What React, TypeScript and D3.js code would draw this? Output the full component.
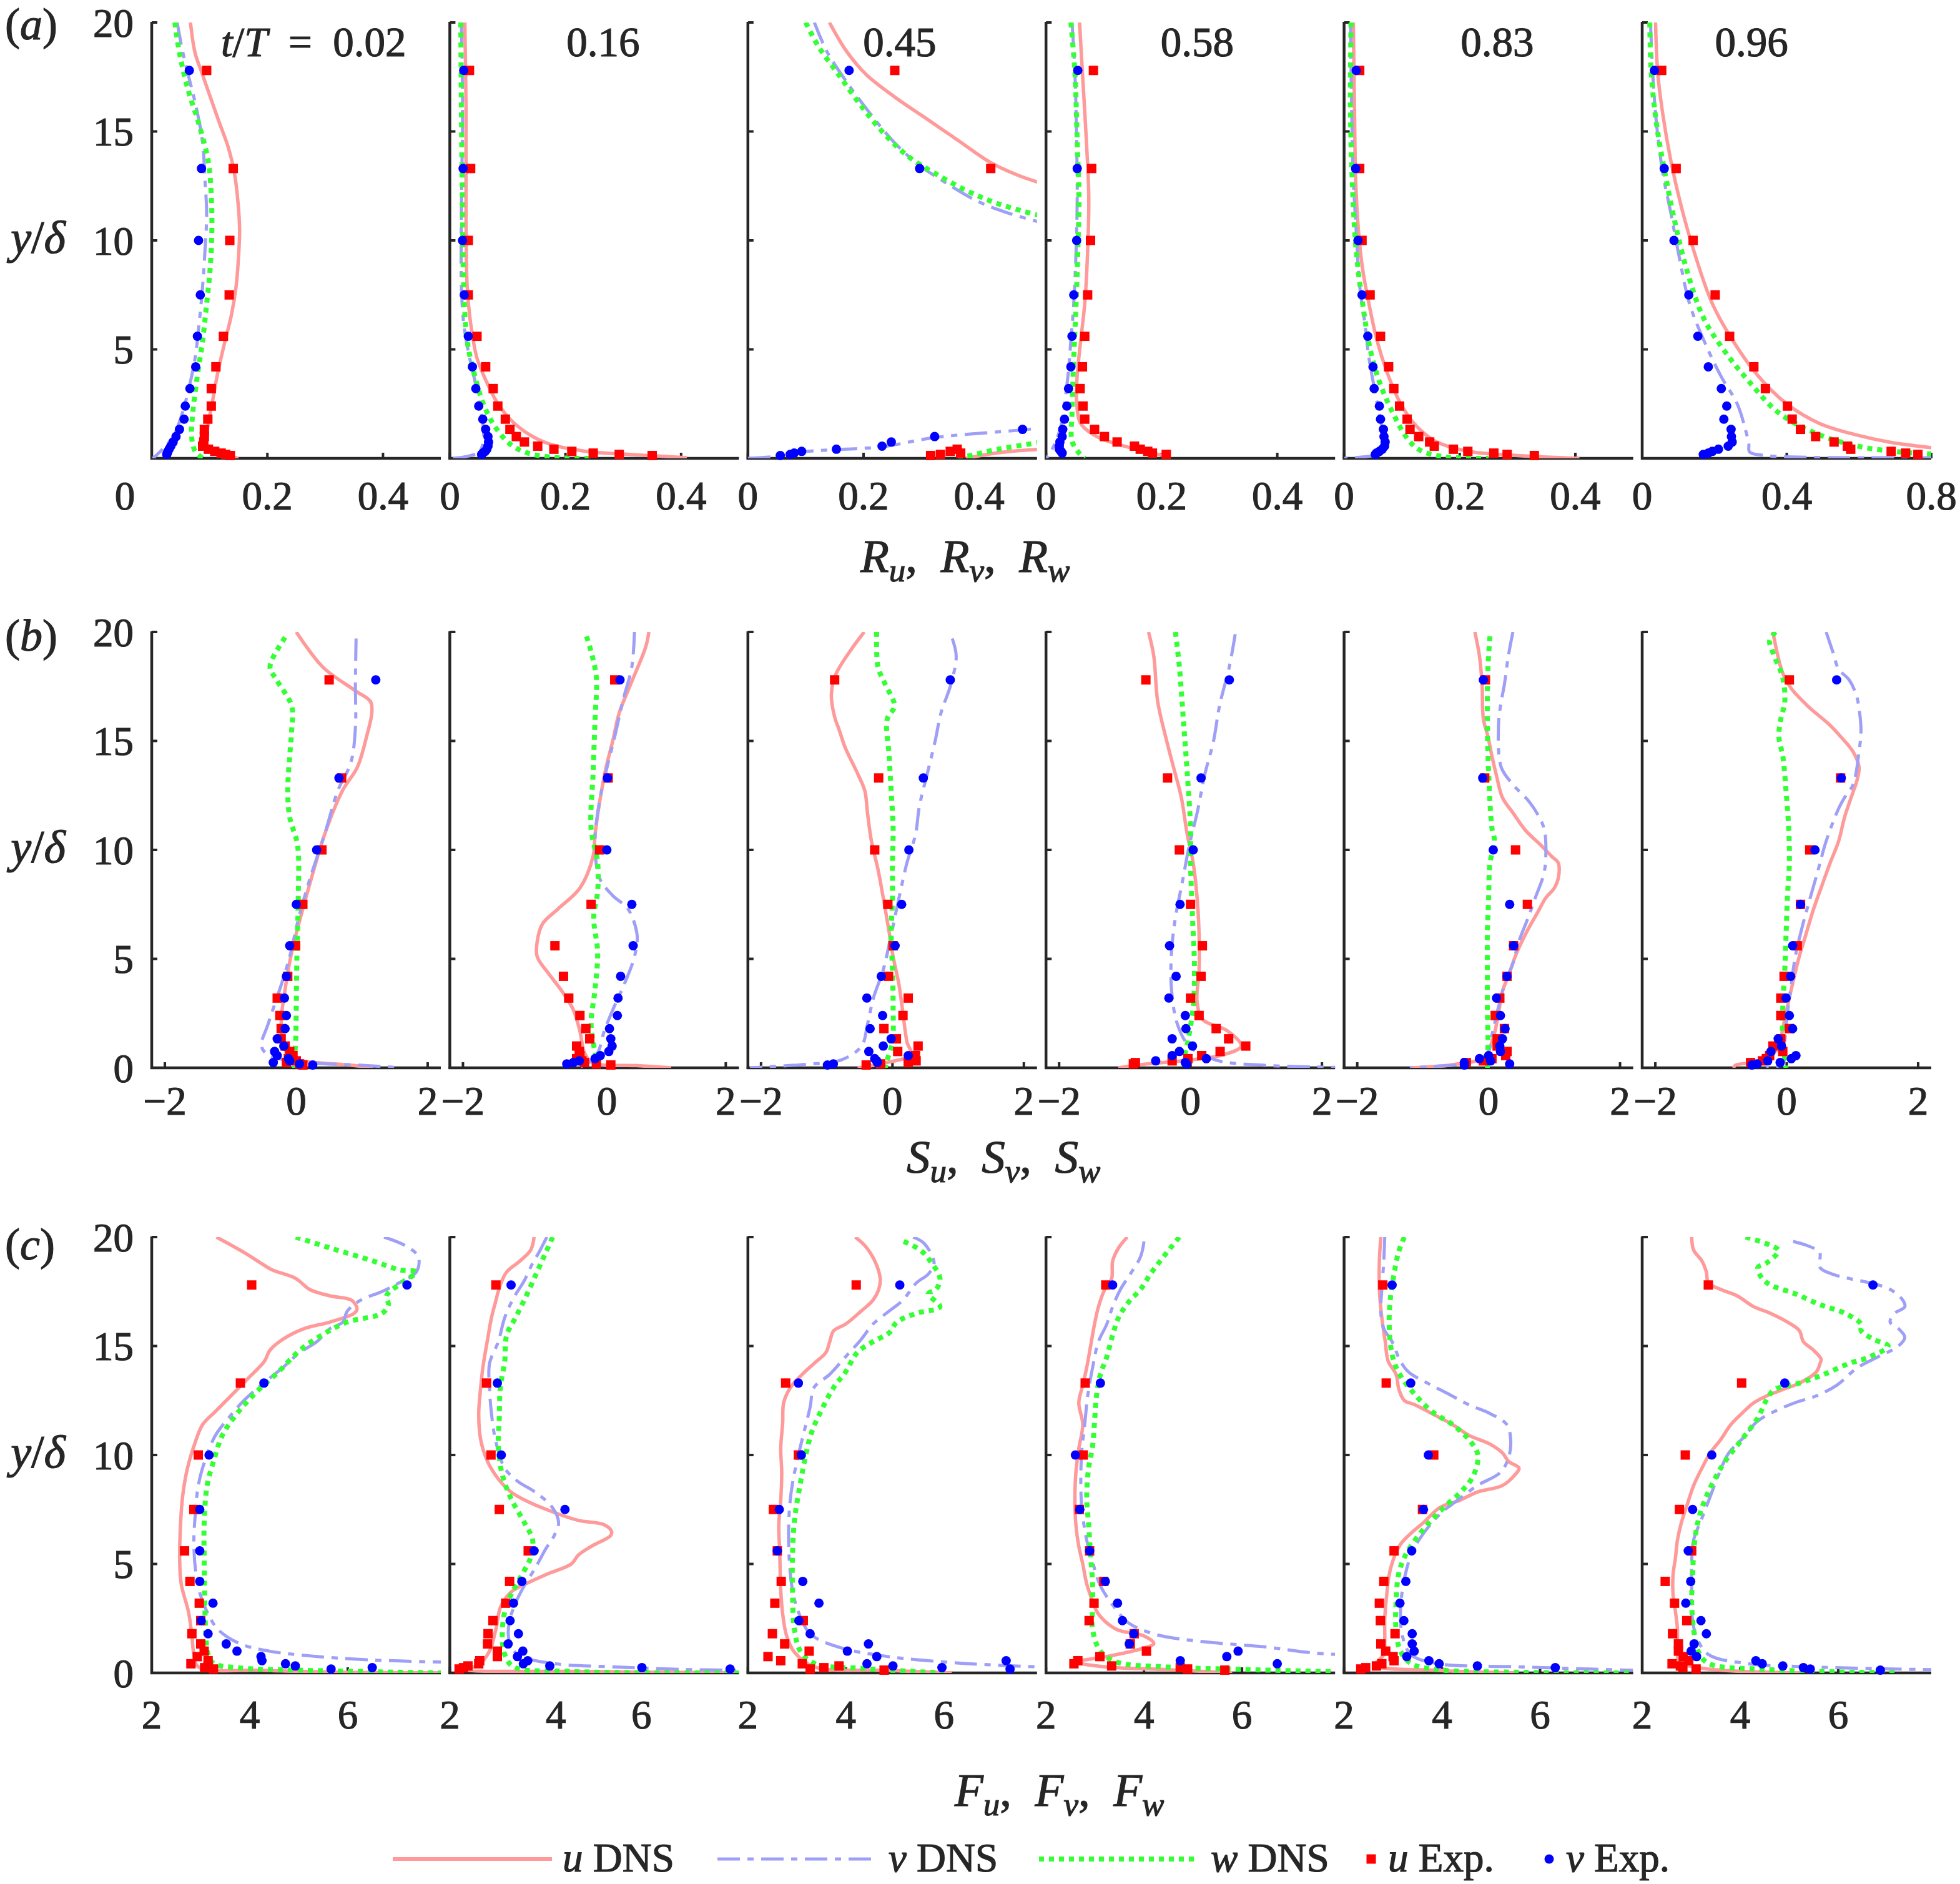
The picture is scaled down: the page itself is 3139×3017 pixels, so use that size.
import * as d3 from 'd3'

type Pt = [number, number] | null

// heights y/δ of the experimental stations (shared by every panel)
const yLevels = [17.8, 13.3, 10, 7.5, 5.6, 4.2, 3.2, 2.4, 1.8, 1.33, 1.0, 0.75, 0.56, 0.42, 0.32, 0.24, 0.18, 0.13]
const phases = ['0.02', '0.16', '0.45', '0.58', '0.83', '0.96']
const yTicks = [0, 5, 10, 15, 20]
const rTicks = [[0, 0.2, 0.4], [0, 0.2, 0.4], [0, 0.2, 0.4], [0, 0.2, 0.4], [0, 0.2, 0.4], [0, 0.4, 0.8]]
const sTicks = [-2, 0, 2]
const fTicks = [2, 4, 6]
const legendLabels = [['u', ' DNS'], ['v', ' DNS'], ['w', ' DNS'], ['u', ' Exp.'], ['v', ' Exp.']]

// ---------- (a) R_u, R_v, R_w ----------
const ruDns: Pt[][] = [
  [[0.067, 20], [0.075, 18.6], [0.088, 17.6], [0.101, 16.6], [0.117, 15.4], [0.132, 14.3], [0.143, 13.1], [0.149, 11.8], [0.152, 10.5], [0.15, 9.2], [0.146, 7.9], [0.138, 6.6], [0.126, 5.3], [0.114, 3.9], [0.105, 2.6], [0.098, 1.6], [0.094, 0.8], [0.096, 0.45], [0.115, 0.22], [0.14, 0.06], [0.15, 0]],
  [[0.026, 20], [0.028, 16.1], [0.028, 11.2], [0.03, 7.9], [0.036, 6.2], [0.047, 4.6], [0.062, 3.6], [0.081, 2.6], [0.104, 1.8], [0.134, 1.15], [0.172, 0.66], [0.233, 0.33], [0.323, 0.16], [0.41, 0.03]],
  [[0.141, 20], [0.17, 18.7], [0.205, 17.6], [0.253, 16.6], [0.308, 15.6], [0.363, 14.6], [0.418, 13.6], [0.466, 13.0], [0.51, 12.6], null, [0.377, 0], [0.418, 0.2], [0.459, 0.33], [0.51, 0.42]],
  [[0.058, 20], [0.063, 17.7], [0.07, 14.5], [0.074, 12], [0.072, 9.5], [0.067, 7.1], [0.06, 5.4], [0.054, 3.8], [0.053, 2.6], [0.06, 1.6], [0.088, 1.0], [0.122, 0.66], [0.157, 0.41], [0.191, 0.2], [0.208, 0.08], [0.215, 0]],
  [[0.016, 20], [0.018, 16.1], [0.02, 12.8], [0.025, 10.4], [0.032, 8.7], [0.043, 7.1], [0.057, 5.4], [0.075, 3.9], [0.096, 2.6], [0.121, 1.6], [0.157, 0.8], [0.214, 0.33], [0.3, 0.13], [0.407, 0]],
  [[0.037, 20], [0.043, 17.7], [0.057, 15.8], [0.08, 13.6], [0.109, 11.5], [0.149, 9.2], [0.194, 7.1], [0.251, 5.4], [0.32, 3.8], [0.4, 2.5], [0.491, 1.6], [0.594, 1.07], [0.686, 0.74], [0.8, 0.49]],
]
const rvDns: Pt[][] = [
  [[0.044, 20], [0.054, 18.6], [0.065, 17.4], [0.077, 16.1], [0.088, 14.5], [0.092, 12.8], [0.095, 11.2], [0.092, 9.5], [0.088, 7.9], [0.082, 6.2], [0.075, 4.6], [0.065, 3.3], [0.052, 2.0], [0.037, 1.0], [0.018, 0.4], [0.002, 0]],
  [[0.02, 20], [0.022, 16.1], [0.02, 11.2], [0.02, 7.9], [0.024, 6.2], [0.032, 4.9], [0.043, 3.6], [0.051, 2.5], [0.057, 1.6], [0.058, 0.8], [0.051, 0.3], [0.028, 0.08], [0.005, 0]],
  [[0.115, 20], [0.136, 18.7], [0.17, 17.3], [0.212, 15.8], [0.253, 14.5], [0.294, 13.5], [0.342, 12.65], [0.397, 11.8], [0.445, 11.3], [0.51, 10.8], null, [0, 0], [0.056, 0.11], [0.095, 0.3], [0.153, 0.4], [0.232, 0.53], [0.322, 0.95], [0.473, 1.3], [0.51, 1.4]],
  [[0.045, 20], [0.05, 17.7], [0.053, 14.5], [0.054, 12], [0.052, 9.5], [0.048, 7.1], [0.043, 5.4], [0.038, 3.8], [0.032, 2.5], [0.026, 1.5], [0.015, 0.66], [0.005, 0.16], [0, 0]],
  [[0.011, 20], [0.013, 16.1], [0.016, 12.8], [0.021, 10.4], [0.027, 7.9], [0.036, 6.2], [0.043, 4.6], [0.054, 3.0], [0.064, 1.6], [0.07, 0.8], [0.064, 0.3], [0.05, 0.13], [0, 0]],
  [[0.023, 20], [0.029, 17.7], [0.04, 15.3], [0.057, 13.1], [0.08, 11.2], [0.103, 9.2], [0.131, 7.1], [0.171, 5.4], [0.217, 3.8], [0.263, 2.5], [0.286, 1.3], [0.295, 0.66], [0.297, 0.3], [0.343, 0.13], [0.457, 0.05], [0.8, 0.03]],
]
const rwDns: Pt[][] = [
  [[0.04, 20], [0.048, 18.6], [0.063, 16.9], [0.082, 15.3], [0.098, 13.6], [0.103, 12], [0.104, 10.4], [0.101, 8.7], [0.095, 7.1], [0.088, 5.4], [0.079, 3.8], [0.071, 2.1], [0.069, 1.0], [0.075, 0.33], [0.088, 0]],
  [[0.019, 20], [0.02, 16.1], [0.022, 11.2], [0.024, 7.9], [0.03, 5.4], [0.043, 3.8], [0.058, 2.5], [0.077, 1.5], [0.104, 0.66], [0.134, 0.25], [0.187, 0.03], [0.248, 0]],
  [[0.1, 20], [0.122, 18.9], [0.157, 17.6], [0.198, 16.1], [0.239, 14.8], [0.28, 13.8], [0.322, 13.1], [0.377, 12.3], [0.431, 11.7], [0.51, 11.1], null, [0.363, 0], [0.39, 0.16], [0.431, 0.41], [0.51, 0.75]],
  [[0.043, 20], [0.05, 17.7], [0.054, 14.5], [0.057, 12], [0.055, 9.5], [0.052, 7.1], [0.048, 4.6], [0.045, 2.1], [0.045, 0.8], [0.057, 0.25], [0.067, 0]],
  [[0.012, 20], [0.011, 16.1], [0.014, 12.8], [0.021, 9.5], [0.032, 7.1], [0.046, 4.9], [0.064, 3.3], [0.086, 2.0], [0.107, 1.0], [0.129, 0.41], [0.171, 0.08], [0.25, 0]],
  [[0.021, 20], [0.025, 17.7], [0.04, 15.3], [0.063, 13.1], [0.091, 10.8], [0.126, 8.5], [0.171, 6.4], [0.229, 4.9], [0.297, 3.5], [0.377, 2.1], [0.48, 1.15], [0.594, 0.57], [0.709, 0.3], [0.8, 0.2]],
]
const ruExp: (number | null)[][] = [
  [0.095, 0.141, 0.135, 0.134, 0.124, 0.111, 0.103, 0.103, 0.097, 0.091, 0.091, 0.09, 0.088, 0.098, 0.109, 0.12, 0.128, 0.136],
  [0.034, 0.036, 0.032, 0.032, 0.047, 0.062, 0.075, 0.083, 0.096, 0.104, 0.115, 0.129, 0.152, 0.18, 0.211, 0.248, 0.293, 0.35],
  [0.254, 0.42, null, null, null, null, null, null, null, null, null, null, null, 0.362, 0.35, 0.368, 0.333, 0.316],
  [0.082, 0.079, 0.077, 0.072, 0.067, 0.063, 0.059, 0.064, 0.067, 0.084, 0.101, 0.123, 0.153, 0.163, 0.176, 0.184, 0.208, null],
  [0.027, 0.027, 0.031, 0.045, 0.063, 0.077, 0.086, 0.096, 0.109, 0.114, 0.129, 0.148, 0.156, 0.189, 0.214, 0.259, 0.282, 0.329],
  [0.054, 0.094, 0.141, 0.202, 0.242, 0.309, 0.341, 0.402, 0.415, 0.438, 0.48, 0.531, 0.568, 0.577, 0.689, 0.729, 0.763, null],
]
const rvExp: (number | null)[][] = [
  [0.065, 0.086, 0.081, 0.084, 0.079, 0.076, 0.066, 0.058, 0.056, 0.048, 0.042, 0.037, 0.033, 0.03, 0.028, 0.027, 0.026, null],
  [0.024, 0.023, 0.022, 0.025, 0.032, 0.039, 0.045, 0.05, 0.057, 0.062, 0.066, 0.067, 0.066, 0.064, 0.061, 0.057, 0.055, null],
  [0.175, 0.297, null, null, null, null, null, null, null, 0.475, 0.323, 0.248, 0.232, 0.153, 0.093, 0.08, 0.073, 0.056],
  [0.055, 0.054, 0.053, 0.048, 0.045, 0.043, 0.039, 0.036, 0.032, 0.029, 0.028, 0.024, 0.023, 0.023, 0.026, 0.028, null, null],
  [0.021, 0.02, 0.024, 0.031, 0.041, 0.05, 0.052, 0.061, 0.063, 0.068, 0.069, 0.071, 0.07, 0.066, 0.061, 0.056, 0.054, null],
  [0.034, 0.061, 0.088, 0.129, 0.154, 0.183, 0.219, 0.234, 0.226, 0.246, 0.247, 0.249, 0.238, 0.211, 0.194, 0.183, 0.169, null],
]

// ---------- (b) S_u, S_v, S_w ----------
const suDns: Pt[][] = [
  [[0, 20], [0.4, 18.4], [0.9, 17.3], [1.13, 16.8], [1.15, 16.3], [1.07, 15.2], [0.93, 13.8], [0.7, 12.7], [0.43, 10.7], [0.23, 8.7], [0.1, 7.3], [-0.07, 5.3], [-0.17, 3.6], [-0.23, 2.0], [-0.17, 0.85], [-0.1, 0.45], [0.17, 0.28], [0.83, 0.12], [1.17, 0]],
  [[0.83, 20], [0.78, 19.3], [0.58, 17.8], [0.38, 16.3], [0.28, 15], [0.18, 13.8], [0.08, 12.2], [0.01, 10.7], [-0.02, 9.7], [-0.22, 8.25], [-0.55, 7.3], [-0.79, 6.6], [-0.87, 5.8], [-0.87, 5.1], [-0.69, 4.3], [-0.49, 3.5], [-0.32, 2.66], [-0.22, 1.68], [-0.15, 0.69], [-0.02, 0.23], [0.65, 0.1], [1.17, 0]],
  [[-0.43, 20], [-0.65, 19.1], [-0.87, 18], [-0.93, 17.1], [-0.88, 16.1], [-0.81, 15.5], [-0.72, 14.7], [-0.53, 13.5], [-0.42, 12.7], [-0.38, 11.7], [-0.32, 10.4], [-0.22, 9.1], [-0.14, 7.8], [-0.06, 6.4], [0.01, 5.1], [0.1, 3.8], [0.16, 2.5], [0.22, 1.2], [0.28, 0.6], [-0.11, 0.23], [-0.53, 0]],
  [[-0.64, 20], [-0.56, 18.9], [-0.5, 16.8], [-0.38, 15.2], [-0.26, 13.8], [-0.14, 12.4], [-0.05, 10.7], [0.04, 9.4], [0.1, 7.8], [0.13, 6.1], [0.13, 4.5], [0.1, 3.0], [0.19, 2.2], [0.56, 1.7], [0.77, 1.0], [0.5, 0.6], [-0.11, 0.33], [-0.72, 0.16], [-1.1, 0]],
  [[-0.21, 20], [-0.14, 18.9], [-0.1, 17.6], [-0.08, 16], [-0.01, 15.2], [0.05, 14.3], [0.12, 13.4], [0.21, 12.4], [0.37, 11.7], [0.56, 10.9], [0.8, 10.2], [0.96, 9.7], [1.06, 9.4], [1.06, 8.7], [1.0, 8.25], [0.87, 7.8], [0.74, 7.1], [0.59, 6.3], [0.43, 5.3], [0.31, 4.3], [0.21, 3.5], [0.15, 2.5], [0.08, 1.5], [-0.07, 0.5], [-0.51, 0.16], [-1.17, 0]],
  [[-0.21, 20], [-0.15, 19.1], [-0.06, 18.1], [0.07, 17.4], [0.32, 16.6], [0.63, 15.8], [0.82, 15.2], [1.01, 14.5], [1.1, 13.8], [1.07, 13.2], [0.98, 12.4], [0.88, 11.5], [0.79, 10.4], [0.66, 9.4], [0.54, 8.4], [0.41, 7.3], [0.29, 6.1], [0.19, 5.1], [0.1, 4.0], [0.01, 2.8], [-0.06, 1.8], [-0.12, 1.0], [-0.31, 0.36], [-0.78, 0.12], [-0.81, 0]],
]
const svDns: Pt[][] = [
  [[0.91, 19.7], [0.9, 17.6], [0.9, 15.6], [0.83, 14], [0.63, 12.7], [0.43, 10.7], [0.2, 8.6], [0.03, 6.8], [-0.1, 5.1], [-0.23, 3.8], [-0.43, 2.0], [-0.53, 1.0], [-0.43, 0.6], [0.03, 0.28], [0.97, 0.12], [1.6, 0]],
  [[0.61, 20], [0.57, 18.4], [0.43, 16.8], [0.31, 15.2], [0.17, 13.5], [0.06, 11.9], [0.01, 10.2], [0.08, 8.7], [0.28, 7.9], [0.51, 7.3], [0.65, 6.1], [0.61, 5.1], [0.45, 3.8], [0.28, 2.66], [0.15, 1.68], [0.05, 0.69], [-0.1, 0.2], [-0.2, 0]],
  [[0.91, 19.7], [0.97, 18.9], [0.89, 17.6], [0.74, 16.3], [0.65, 15], [0.53, 13.5], [0.41, 12], [0.35, 10.7], [0.22, 9.4], [0.1, 7.8], [-0.02, 6.1], [-0.14, 4.5], [-0.29, 3.2], [-0.38, 2.0], [-0.47, 1.0], [-0.78, 0.36], [-1.32, 0.16], [-2.17, 0]],
  [[0.68, 19.9], [0.59, 18.4], [0.44, 16.6], [0.35, 15], [0.22, 13.5], [0.1, 11.7], [-0.02, 10.2], [-0.12, 8.6], [-0.23, 6.9], [-0.29, 5.3], [-0.29, 3.6], [-0.2, 2.0], [-0.02, 1.0], [0.38, 0.36], [1.1, 0.12], [2.2, 0.02]],
  [[0.37, 20], [0.3, 18.9], [0.24, 17.6], [0.18, 16.6], [0.15, 15.7], [0.19, 13.8], [0.37, 13.0], [0.62, 12.2], [0.77, 11.5], [0.85, 10.9], [0.87, 9.7], [0.84, 8.9], [0.71, 7.8], [0.59, 6.8], [0.46, 5.8], [0.37, 4.8], [0.24, 3.8], [0.15, 2.8], [0.05, 1.5], [-0.01, 0.7], [-0.2, 0.28], [-0.83, 0.06], [-1.2, 0]],
  [[0.6, 20], [0.7, 19.1], [0.79, 18.3], [0.95, 17.8], [1.06, 17.1], [1.1, 16.5], [1.13, 15.5], [1.1, 14.5], [1.01, 13], [0.88, 12.4], [0.79, 11.9], [0.6, 10.4], [0.48, 9.1], [0.32, 7.4], [0.23, 6.4], [0.13, 5.1], [0.06, 3.6], [0.01, 2.5], [-0.03, 1.2], [-0.06, 0.2], [-0.31, 0]],
]
const swDns: Pt[][] = [
  [[-0.17, 19.75], [-0.4, 18.4], [-0.3, 17.8], [-0.07, 16.6], [-0.07, 15.5], [-0.1, 14.3], [-0.13, 12.7], [-0.1, 11.5], [0.02, 10.2], [0.03, 7.8], [0.01, 5.3], [0, 2.8], [-0.01, 1.2], [-0.03, 0.36], [-0.03, 0]],
  [[-0.12, 19.8], [-0.05, 19.1], [0.03, 17.9], [0.01, 16], [-0.02, 13.5], [-0.05, 11], [0.05, 9.4], [0.05, 8.1], [-0.01, 6.9], [0.05, 5.3], [0.01, 3.6], [-0.05, 2], [0.01, 0.7], [0.05, 0]],
  [[-0.24, 20], [-0.22, 18.4], [-0.11, 17.6], [0.03, 16.6], [-0.08, 16], [-0.05, 14.3], [-0.02, 12.7], [0.01, 11], [0, 9.4], [0, 7.8], [-0.02, 6.1], [0, 4.5], [0.01, 2.8], [0, 1.2], [-0.08, 0.36], [-0.11, 0]],
  [[-0.23, 20], [-0.17, 18.4], [-0.11, 16], [-0.05, 13.5], [0, 11], [0, 9.4], [0.03, 6.9], [0.06, 4.5], [0.04, 2.8], [-0.04, 1.2], [-0.08, 0.5], [0.01, 0]],
  [[0.02, 19.8], [-0.01, 18.4], [-0.02, 16], [0, 13.5], [0.05, 11], [0.09, 10.4], [0.02, 9.4], [0, 7.8], [-0.02, 6.1], [-0.02, 4.5], [-0.02, 2.8], [-0.01, 1.2], [-0.02, 0]],
  [[-0.17, 20], [-0.26, 19.6], [-0.19, 18.9], [-0.06, 17.9], [-0.03, 16.8], [-0.09, 16], [-0.12, 15.2], [-0.06, 14.3], [-0.01, 12.7], [0.03, 11], [0.04, 9.4], [0.01, 7.8], [-0.01, 6.1], [-0.03, 4.5], [-0.06, 2.8], [-0.06, 1.2], [-0.01, 0]],
]
const suExp: (number | null)[][] = [
  [0.5, 0.69, 0.39, 0.1, -0.01, -0.13, -0.29, -0.25, -0.23, -0.23, -0.17, -0.1, -0.05, -0.12, 0.0, -0.15, 0.05, 0.1],
  [0.31, 0.21, 0.08, -0.05, -0.6, -0.47, -0.39, -0.22, -0.13, -0.07, -0.27, -0.23, -0.22, -0.27, -0.19, -0.15, 0.03, 0.25],
  [-0.88, -0.21, -0.27, -0.07, 0.01, -0.06, 0.24, 0.16, -0.13, 0.06, 0.39, 0.08, 0.35, 0.32, 0.36, 0.24, -0.18, -0.4],
  [-0.68, -0.35, -0.17, 0, 0.18, 0.16, 0, 0.13, 0.39, 0.58, 0.84, 0.45, 0.17, -0.04, -0.28, -0.84, -0.87, null],
  [-0.05, -0.06, 0.41, 0.59, 0.38, 0.28, 0.17, 0.1, 0.24, 0.13, 0.13, 0.28, 0.26, 0.05, -0.08, -0.34, null, null],
  [0.04, 0.82, 0.35, 0.21, 0.16, -0.04, -0.09, -0.09, 0.04, -0.09, -0.21, -0.06, -0.26, -0.31, -0.37, -0.55, null, null],
]
const svExp: (number | null)[][] = [
  [1.21, 0.65, 0.31, 0, -0.1, -0.15, -0.18, -0.15, -0.17, -0.29, -0.19, -0.33, -0.29, -0.12, -0.1, -0.35, 0.05, 0.25],
  [0.39, 0.2, 0.19, 0.57, 0.59, 0.4, 0.36, 0.35, 0.23, 0.25, 0.27, 0.22, 0.09, 0.01, -0.23, -0.32, -0.42, null],
  [0.88, 0.47, 0.25, 0.14, 0.04, -0.17, -0.39, -0.15, -0.34, -0.02, -0.14, -0.36, 0.24, -0.27, -0.24, -0.23, -0.9, -0.99],
  [0.59, 0.16, 0.04, -0.16, -0.32, -0.22, -0.33, -0.08, -0.07, -0.28, 0.03, -0.17, -0.28, 0.24, -0.53, -0.08, -0.06, null],
  [-0.08, -0.09, 0.07, 0.32, 0.38, 0.28, 0.12, 0.18, 0.25, 0.21, 0.17, 0.18, 0, -0.14, 0.03, -0.37, 0.32, -0.37],
  [0.76, 0.83, 0.43, 0.21, 0.09, 0.06, -0.01, 0.04, 0.09, -0.13, -0.08, -0.24, 0.14, 0.07, -0.29, -0.1, -0.45, -0.53],
]

// ---------- (c) F_u, F_v, F_w ----------
const fuDns: Pt[][] = [
  [[3.32, 20], [3.88, 19.3], [4.23, 18.8], [4.45, 18.5], [4.94, 18.1], [5.22, 17.6], [5.64, 17.3], [6.08, 17.1], [6.19, 16.7], [6.13, 16.5], [5.64, 16.1], [5.11, 15.8], [4.67, 15.3], [4.41, 14.8], [4.3, 14.3], [3.96, 13.5], [3.61, 12.7], [3.3, 12.0], [3.04, 11.4], [2.89, 10.6], [2.73, 9.4], [2.63, 8.1], [2.59, 6.9], [2.57, 5.3], [2.6, 4.1], [2.75, 2.8], [2.82, 1.7], [2.86, 0.85], [2.95, 0.28], [4.23, 0.12], [5.99, 0.03], [7.9, 0]],
  [[3.72, 20], [3.65, 19.4], [3.43, 18.9], [3.16, 18.4], [3.03, 17.8], [2.93, 17], [2.85, 16.3], [2.77, 15.3], [2.68, 14.1], [2.63, 13.1], [2.59, 11.9], [2.63, 10.7], [2.77, 9.7], [2.99, 8.9], [3.25, 8.3], [3.65, 7.8], [4.09, 7.4], [4.62, 7.0], [5.15, 6.8], [5.3, 6.5], [5.28, 6.3], [4.88, 5.8], [4.62, 5.4], [4.48, 5.0], [4.0, 4.55], [3.56, 4.1], [3.3, 3.8], [3.16, 3.5], [3.03, 3.0], [2.94, 2.0], [2.81, 1.0], [2.59, 0.36], [2.33, 0.16], [4.44, 0.07], [6.8, 0.02], [7.9, 0]],
  [[4.19, 20], [4.39, 19.6], [4.59, 18.9], [4.7, 18.1], [4.67, 17.6], [4.55, 17.1], [4.31, 16.6], [3.99, 16.0], [3.75, 15.7], [3.67, 15.2], [3.59, 14.7], [3.35, 14.2], [3.11, 13.7], [2.87, 13.1], [2.73, 12.4], [2.71, 11.5], [2.67, 10.3], [2.69, 9.2], [2.67, 7.9], [2.63, 6.8], [2.65, 5.5], [2.67, 3.8], [2.71, 2.7], [2.79, 1.7], [2.95, 0.95], [3.35, 0.28], [4.8, 0.12], [6.16, 0]],
  [[3.66, 20], [3.48, 19.5], [3.36, 18.9], [3.34, 18.1], [3.2, 17.6], [3.07, 16.8], [2.99, 16.0], [2.91, 15.0], [2.83, 14.0], [2.75, 13.2], [2.67, 12.4], [2.75, 11.4], [2.67, 10.3], [2.61, 9.2], [2.59, 7.9], [2.61, 6.8], [2.67, 5.8], [2.75, 5.0], [2.83, 4.1], [2.95, 3.3], [3.07, 2.7], [3.44, 2.0], [4.0, 1.7], [4.2, 1.35], [3.93, 1.1], [3.28, 0.77], [2.63, 0.5], [3.2, 0.28], [4.41, 0.16], [5.8, 0]],
  [[2.75, 20], [2.72, 18.9], [2.72, 17.6], [2.77, 16.3], [2.84, 15.2], [2.9, 14.3], [3.06, 13.7], [3.12, 13.0], [3.23, 12.5], [3.45, 12.3], [3.79, 11.9], [4.21, 11.4], [4.55, 10.9], [4.98, 10.5], [5.23, 10.1], [5.36, 9.7], [5.57, 9.4], [5.49, 9.1], [5.23, 8.6], [4.72, 8.3], [4.34, 7.9], [3.96, 7.6], [3.62, 6.9], [3.36, 6.4], [3.15, 5.9], [3.02, 5.3], [2.92, 4.5], [2.87, 3.6], [2.83, 2.5], [2.83, 1.5], [2.81, 0.85], [2.64, 0.36], [3.87, 0.12], [5.49, 0]],
  [[3.01, 20], [3.05, 19.4], [3.22, 18.9], [3.31, 18.4], [3.35, 17.9], [3.6, 17.6], [3.94, 17.3], [4.28, 16.8], [4.62, 16.5], [5.04, 16.0], [5.21, 15.7], [5.29, 15.2], [5.5, 14.8], [5.65, 14.4], [5.63, 14.2], [5.55, 13.8], [5.21, 13.3], [4.87, 13.0], [4.53, 12.7], [4.28, 12.4], [4.03, 11.9], [3.81, 11.4], [3.6, 10.7], [3.39, 10.1], [3.22, 9.4], [3.05, 8.6], [2.93, 7.8], [2.8, 6.9], [2.72, 6.1], [2.68, 5.3], [2.63, 4.5], [2.63, 3.6], [2.68, 2.8], [2.72, 2.0], [2.72, 1.2], [2.76, 0.53], [3.27, 0.2], [5.21, 0]],
]
const fvDns: Pt[][] = [
  [[6.74, 20], [7.18, 19.6], [7.44, 19.1], [7.4, 18.4], [7.05, 17.9], [6.7, 17.5], [6.26, 17.1], [5.99, 16.6], [5.9, 16.1], [5.64, 15.8], [5.37, 15.2], [5.02, 14.7], [4.67, 14.0], [4.23, 13.2], [3.88, 12.5], [3.57, 11.7], [3.3, 10.9], [3.08, 9.7], [2.95, 8.6], [2.89, 7.3], [2.86, 6.1], [2.89, 4.8], [2.99, 3.6], [3.13, 2.8], [3.35, 2.0], [3.79, 1.35], [4.4, 1.0], [5.29, 0.77], [6.43, 0.6], [7.9, 0.5]],
  [[3.98, 20], [3.82, 19.3], [3.69, 18.8], [3.52, 18.0], [3.3, 17.2], [3.12, 16.3], [2.99, 15.2], [2.81, 14.2], [2.81, 13.1], [2.85, 11.9], [2.94, 10.6], [3.12, 9.4], [3.38, 8.8], [3.74, 8.3], [4.09, 7.6], [4.22, 6.9], [4.13, 6.3], [3.96, 5.7], [3.74, 4.8], [3.52, 4.0], [3.34, 3.2], [3.21, 2.3], [3.21, 1.5], [3.38, 0.85], [4.09, 0.44], [5.32, 0.28], [6.8, 0.16], [7.9, 0.12]],
  [[5.37, 20], [5.6, 19.7], [5.8, 18.8], [5.68, 18.3], [5.44, 17.9], [5.16, 17.1], [4.88, 16.6], [4.55, 16.0], [4.31, 15.3], [3.99, 14.5], [3.67, 13.7], [3.35, 13.1], [3.27, 12.2], [3.15, 11.1], [3.03, 10.0], [2.91, 8.7], [2.85, 7.6], [2.83, 6.3], [2.85, 5.0], [2.91, 3.8], [3.03, 2.8], [3.27, 1.8], [3.83, 1.2], [4.8, 0.77], [6.4, 0.44], [7.9, 0.28]],
  [[4.0, 19.8], [3.93, 19.1], [3.72, 18.3], [3.52, 17.6], [3.36, 16.8], [3.24, 16.0], [3.07, 15.2], [2.95, 14.0], [2.85, 12.7], [2.79, 11.4], [2.73, 10.2], [2.71, 8.9], [2.73, 7.6], [2.83, 6.1], [2.95, 5.1], [3.11, 4.0], [3.4, 3.0], [3.68, 2.3], [4.25, 1.76], [5.23, 1.43], [6.45, 1.2], [7.4, 0.93], [7.9, 0.85]],
  [[2.83, 20], [2.81, 18.9], [2.77, 17.6], [2.75, 16.5], [2.81, 15.8], [2.98, 15.2], [3.15, 14.3], [3.32, 13.8], [3.7, 13.3], [4.13, 12.8], [4.55, 12.3], [4.98, 11.9], [5.32, 11.4], [5.4, 10.7], [5.36, 9.9], [5.19, 9.2], [4.72, 8.6], [4.3, 7.9], [3.96, 7.3], [3.62, 6.4], [3.4, 5.6], [3.28, 4.8], [3.19, 3.8], [3.15, 2.8], [3.19, 1.7], [3.36, 0.85], [3.87, 0.44], [5.57, 0.28], [7.9, 0.12]],
  [[5.08, 19.8], [5.38, 19.6], [5.62, 19.3], [5.63, 18.6], [5.88, 18.3], [6.22, 18.1], [6.64, 17.9], [7.06, 17.6], [7.32, 17.1], [7.36, 16.8], [7.15, 16.5], [7.06, 16.1], [7.23, 15.8], [7.36, 15.4], [7.23, 15.0], [6.81, 14.5], [6.39, 14.0], [5.97, 13.2], [5.54, 12.7], [5.12, 12.4], [4.7, 12.0], [4.45, 11.7], [4.28, 11.4], [4.11, 10.9], [3.77, 10.1], [3.56, 9.1], [3.39, 8.1], [3.22, 7.1], [3.05, 6.1], [3.01, 5.1], [3.01, 3.8], [3.01, 2.8], [3.1, 1.7], [3.35, 0.85], [4.11, 0.44], [5.38, 0.28], [7.9, 0.15]],
]
const fwDns: Pt[][] = [
  [[4.94, 20], [5.64, 19.5], [6.52, 18.9], [7.05, 18.5], [7.4, 18.4], [7.1, 17.9], [6.79, 17.3], [6.83, 16.9], [6.7, 16.5], [5.99, 16.1], [5.47, 15.5], [5.02, 14.8], [4.58, 13.8], [4.14, 12.9], [3.74, 11.9], [3.44, 10.9], [3.26, 9.7], [3.13, 8.6], [3.07, 6.9], [3.07, 5.3], [3.08, 3.6], [3.1, 2.0], [3.15, 0.85], [3.26, 0.44], [3.79, 0.23], [5.11, 0.12], [7.9, 0]],
  [[4.1, 20], [3.96, 19.3], [3.78, 18.4], [3.56, 17.3], [3.34, 16.3], [3.16, 15.5], [3.12, 14.3], [3.03, 13.1], [3.01, 11.7], [2.99, 10.4], [3.07, 9.1], [3.25, 8.0], [3.52, 6.9], [3.69, 6.1], [3.65, 5.3], [3.47, 4.5], [3.25, 3.6], [3.12, 2.8], [3.07, 1.7], [3.12, 0.85], [3.3, 0.28], [4.44, 0.07], [7.9, 0]],
  [[5.18, 19.8], [5.52, 19.4], [5.72, 18.9], [5.92, 18.1], [5.84, 17.6], [5.68, 17.4], [5.92, 16.8], [5.44, 16.5], [5.04, 16.1], [4.88, 15.6], [4.55, 15.2], [4.23, 14.7], [3.99, 13.8], [3.75, 13.1], [3.51, 12.1], [3.31, 11.1], [3.19, 10.1], [3.07, 8.7], [2.95, 7.0], [2.91, 5.4], [2.91, 3.8], [2.95, 2.0], [3.07, 1.0], [3.35, 0.44], [4.39, 0.2], [6.0, 0]],
  [[4.72, 20], [4.54, 19.5], [4.33, 18.9], [4.13, 18.3], [3.93, 17.6], [3.68, 17.0], [3.48, 16.3], [3.36, 15.5], [3.24, 14.5], [3.11, 13.7], [3.03, 12.7], [2.99, 11.5], [2.95, 10.4], [2.87, 9.4], [2.83, 8.1], [2.87, 6.8], [2.91, 5.4], [2.95, 4.1], [2.95, 3.0], [2.95, 2.0], [3.11, 1.0], [3.44, 0.5], [4.41, 0.28], [6.04, 0.16], [7.9, 0.05]],
  [[3.23, 20], [3.11, 19.3], [3.02, 18.3], [2.95, 17.3], [2.92, 16.0], [2.98, 14.6], [3.11, 13.8], [3.36, 13.0], [3.79, 12.0], [4.21, 11.4], [4.55, 10.7], [4.72, 10.1], [4.72, 9.6], [4.6, 8.9], [4.38, 8.3], [4.04, 7.6], [3.7, 6.8], [3.45, 6.1], [3.23, 5.3], [3.11, 4.5], [3.06, 3.2], [3.06, 2.0], [3.15, 1.0], [3.36, 0.44], [3.87, 0.16], [5.57, 0.03], [7.9, 0]],
  [[4.11, 20], [4.53, 19.7], [4.78, 19.4], [4.74, 19.2], [4.53, 18.8], [4.36, 18.6], [4.45, 18.1], [4.62, 17.8], [5.12, 17.4], [5.63, 16.9], [6.14, 16.5], [6.47, 16.0], [6.47, 15.7], [6.73, 15.3], [7.02, 15.0], [6.64, 14.5], [6.22, 14.2], [5.71, 13.7], [5.21, 13.3], [4.7, 13.0], [4.53, 12.5], [4.36, 11.7], [4.03, 10.7], [3.69, 9.7], [3.48, 8.9], [3.31, 8.1], [3.18, 7.3], [3.1, 6.5], [3.05, 5.5], [3.03, 4.5], [3.01, 3.2], [3.05, 2.0], [3.14, 1.0], [3.35, 0.44], [4.53, 0.16], [7.23, 0]],
]
const fuExp: (number | null)[][] = [
  [4.04, 3.81, 2.95, 2.86, 2.67, 2.78, 2.97, 3.0, 2.82, 3.0, 3.07, 2.93, 3.15, 2.8, 3.15, 3.08, 3.26, null],
  [2.94, 2.75, 2.84, 3.01, 3.6, 3.22, 3.14, 2.88, 2.78, 2.77, 2.97, 2.97, 2.61, 2.59, 2.37, 2.28, 2.19, null],
  [4.21, 2.77, 3.03, 2.52, 2.6, 2.68, 2.55, 3.13, 2.5, 2.75, 3.25, 2.41, 2.67, 3.11, 3.86, 3.55, 3.27, 4.78],
  [3.22, 2.8, 2.76, 2.68, 2.89, 3.18, 2.98, 2.88, 3.8, 3.72, 4.05, 3.1, 2.65, 2.57, 3.34, 4.74, 4.89, 5.65],
  [2.79, 2.86, 3.83, 3.6, 3.02, 2.81, 2.72, 2.74, 3.04, 2.75, 2.85, 3.0, 3.02, 2.77, 2.66, 2.44, 2.34, null],
  [3.35, 4.03, 2.88, 2.76, 3.01, 2.47, 2.66, 2.91, 2.62, 2.74, 2.74, 2.84, 2.95, 2.61, 2.78, 2.83, 3.1, null],
]
const fvExp: (number | null)[][] = [
  [7.21, 4.29, 3.17, 2.98, 2.98, 2.98, 3.25, 3.01, 3.15, 3.52, 3.74, 4.23, 4.25, 4.73, 4.93, 6.5, 5.66, null],
  [3.25, 2.97, 3.05, 4.35, 3.72, 3.47, 3.3, 3.23, 3.4, 3.19, 3.49, 3.38, 3.59, 3.5, 4.04, 5.92, 7.72, null],
  [5.1, 3.03, 3.09, 2.64, 2.6, 3.12, 3.45, 3.04, 3.27, 4.46, 4.03, 4.63, 7.27, 4.43, 4.96, 5.96, 7.35, null],
  [3.36, 3.11, 2.6, 2.69, 2.89, 3.21, 3.46, 3.56, 3.79, 3.7, 5.92, 5.69, 4.74, 6.72, null, null, null, null],
  [2.98, 3.36, 3.72, 3.62, 3.38, 3.26, 3.14, 3.22, 3.39, 3.39, 3.43, 3.28, 3.73, 3.94, 4.72, 6.31, null, null],
  [6.71, 4.91, 3.42, 3.03, 2.94, 2.99, 2.89, 3.2, 3.31, 3.06, 3.0, 3.11, 4.32, 4.45, 4.87, 5.29, 5.43, 6.86],
]

// ---------- layout / styles ----------
const FONT = '"Liberation Serif", "Times New Roman", Times, serif'
const INK = '#262626'
const C_U = '#ff9a9a'
const C_V = '#9f9ff7'
const C_W = '#33ff33'
const PW = 463
const PH = 698
const panelX = (i: number) => 243 + i * 477.4
const titleFrac = [0.56, 0.53, 0.525, 0.523, 0.53, 0.378]
// a few tick labels in the original sit slightly off their tick
const tickNudge: Record<string, number> = { 'a-0-0': -43, 'b-1-0': 20, 'c-1-4': 13, 'c-1-6': -7 }
const TXT = { fill: INK, stroke: INK, strokeWidth: 1.2 }

interface Row {
  id: string
  top: number
  domain: (i: number) => [number, number]
  ticks: (i: number) => number[]
  fmt: (v: number) => string
  u: Pt[][]
  v: Pt[][]
  w: Pt[][]
  ue: (number | null)[][]
  ve: (number | null)[][]
  tickDy: number
  yZero: boolean
  sym: string
  symX: number
  symY: number
  tagY: number
}

const minus = (v: number) => (v < 0 ? '\u2212' + Math.abs(v) : String(v))

const rows: Row[] = [
  { id: 'a', top: 36, domain: (i) => (i === 5 ? [0, 0.8] : [0, 0.5]), ticks: (i) => rTicks[i], fmt: (v) => String(v),
    u: ruDns, v: rvDns, w: rwDns, ue: ruExp, ve: rvExp, tickDy: 82, yZero: false, sym: 'R', symX: 1378, symY: 916, tagY: 63 },
  { id: 'b', top: 1012, domain: () => [-2.2, 2.2], ticks: () => sTicks, fmt: minus,
    u: suDns, v: svDns, w: swDns, ue: suExp, ve: svExp, tickDy: 75, yZero: true, sym: 'S', symX: 1452, symY: 1878, tagY: 1042 },
  { id: 'c', top: 1981, domain: () => [2, 7.9], ticks: () => fTicks, fmt: (v) => String(v),
    u: fuDns, v: fvDns, w: fwDns, ue: fuExp, ve: fvExp, tickDy: 89, yZero: true, sym: 'F', symX: 1529, symY: 2892, tagY: 2017 },
]

function Panel({ row, i }: { row: Row; i: number }) {
  const dom = row.domain(i)
  const x = d3.scaleLinear().domain(dom).range([0, PW])
  const y = d3.scaleLinear().domain([0, 20]).range([PH, 0])
  const line = d3
    .line<Pt>()
    .defined((d) => d !== null)
    .x((d) => x((d as [number, number])[0]))
    .y((d) => y((d as [number, number])[1]))
    .curve(d3.curveCatmullRom.alpha(0.5))
  const pts = (vals: (number | null)[]) =>
    yLevels
      .map((yy, k) => [vals[k], yy] as [number | null, number])
      .filter(([v]) => v !== null && v >= dom[0] && v <= dom[1]) as [number, number][]
  const clipId = `clip-${row.id}-${i}`
  const tickLen = 9
  return (
    <g transform={`translate(${panelX(i)},${row.top})`}>
      <clipPath id={clipId}>
        <rect x={0} y={0} width={PW} height={PH} />
      </clipPath>
      {/* axes */}
      <line x1={0} y1={-1} x2={0} y2={PH + 2} stroke={INK} strokeWidth={4.5} />
      <line x1={-2} y1={PH} x2={PW} y2={PH} stroke={INK} strokeWidth={4.5} />
      {yTicks.map((t) => (
        <line key={'yt' + t} x1={0} x2={tickLen} y1={y(t)} y2={y(t)} stroke={INK} strokeWidth={4} />
      ))}
      {row.ticks(i).map((t) => (
        <line key={'xt' + t} x1={x(t)} x2={x(t)} y1={PH} y2={PH - tickLen} stroke={INK} strokeWidth={4} />
      ))}
      {/* DNS lines */}
      <g clipPath={`url(#${clipId})`} fill="none">
        <path d={line(row.u[i]) ?? ''} stroke={C_U} strokeWidth={5.5} />
        <path d={line(row.v[i]) ?? ''} stroke={C_V} strokeWidth={5} strokeDasharray="36 12 10 12" />
        <path d={line(row.w[i]) ?? ''} stroke={C_W} strokeWidth={8} strokeDasharray="8 8" />
      </g>
      {/* experiments */}
      {pts(row.ue[i]).map(([v, yy], k) => (
        <rect key={'ue' + k} x={x(v) - 7.5} y={y(yy) - 7.5} width={15} height={15} fill="#ff0000" />
      ))}
      {pts(row.ve[i]).map(([v, yy], k) => (
        <circle key={'ve' + k} cx={x(v)} cy={y(yy)} r={7.5} fill="#0000ff" />
      ))}
      {/* x tick labels */}
      {row.ticks(i).map((t) => (
        <text
          key={'xl' + t}
          x={x(t) + (tickNudge[`${row.id}-${i}-${t}`] ?? 0)}
          y={PH + row.tickDy}
          textAnchor="middle"
          fontSize={65}
          {...TXT}
        >
          {row.fmt(t)}
        </text>
      ))}
      {/* y tick labels on the first panel only */}
      {i === 0 &&
        yTicks
          .filter((t) => row.yZero || t > 0)
          .map((t) => (
            <text key={'yl' + t} x={-29} y={y(t)} dy="0.35em" textAnchor="end" fontSize={65} {...TXT}>
              {t}
            </text>
          ))}
      {i === 0 && (
        <text x={-138} y={y(10) + 20} textAnchor="end" fontSize={74} {...TXT}>
          <tspan fontStyle="italic">y</tspan>/<tspan fontStyle="italic">δ</tspan>
        </text>
      )}
      {/* phase labels on top row */}
      {row.id === 'a' && (
        <text x={PW * titleFrac[i]} y={54} textAnchor="middle" fontSize={67} {...TXT}>
          {i === 0 ? (
            <>
              <tspan fontStyle="italic">t</tspan>/<tspan fontStyle="italic">T</tspan>
              {'\u2002=\u2002' + phases[i]}
            </>
          ) : (
            phases[i]
          )}
        </text>
      )}
    </g>
  )
}

function AxisSymbol({ row }: { row: Row }) {
  const subs = ['u', 'v', 'w']
  return (
    <text x={row.symX} y={row.symY} fontSize={75} {...TXT}>
      {subs.map((s, k) => (
        <tspan key={s}>
          <tspan fontStyle="italic">{row.sym}</tspan>
          <tspan fontStyle="italic" fontSize={53} dy={15}>
            {s}
          </tspan>
          <tspan dy={-15}>{k < 2 ? ',\u2002' : ''}</tspan>
        </tspan>
      ))}
    </text>
  )
}

function Legend() {
  const ly = 2977
  const ty = 2997
  const samples = [
    { x1: 629, x2: 884, tx: 901 },
    { x1: 1149, x2: 1403, tx: 1423 },
    { x1: 1664, x2: 1912, tx: 1939 },
    { x1: 2196, x2: 2196, tx: 2223 },
    { x1: 2481, x2: 2481, tx: 2508 },
  ]
  return (
    <g>
      <line x1={samples[0].x1} x2={samples[0].x2} y1={ly} y2={ly} stroke={C_U} strokeWidth={6} />
      <line x1={samples[1].x1} x2={samples[1].x2} y1={ly} y2={ly} stroke={C_V} strokeWidth={5} strokeDasharray="36 12 10 12" />
      <line x1={samples[2].x1} x2={samples[2].x2} y1={ly} y2={ly} stroke={C_W} strokeWidth={8} strokeDasharray="8 8" />
      <rect x={samples[3].x1 - 7.5} y={ly - 7.5} width={15} height={15} fill="#ff0000" />
      <circle cx={samples[4].x1} cy={ly} r={7.5} fill="#0000ff" />
      {legendLabels.map(([sym, rest], k) => (
        <text key={k} x={samples[k].tx} y={ty} fontSize={65} {...TXT}>
          <tspan fontStyle="italic">{sym}</tspan>
          {rest}
        </text>
      ))}
    </g>
  )
}

export default function App() {
  return (
    <svg
      width={3139}
      height={3017}
      viewBox="0 0 3139 3017"
      style={{ position: 'absolute', left: 0, top: 0, background: '#fff' }}
      fontFamily={FONT}
    >
      <rect width={3139} height={3017} fill="#fff" />
      {rows.map((row) => (
        <g key={row.id}>
          {phases.map((_, i) => (
            <Panel key={i} row={row} i={i} />
          ))}
          <text x={8} y={row.tagY} fontSize={72} {...TXT}>
            (<tspan fontStyle="italic">{row.id}</tspan>)
          </text>
          <AxisSymbol row={row} />
        </g>
      ))}
      <Legend />
    </svg>
  )
}
